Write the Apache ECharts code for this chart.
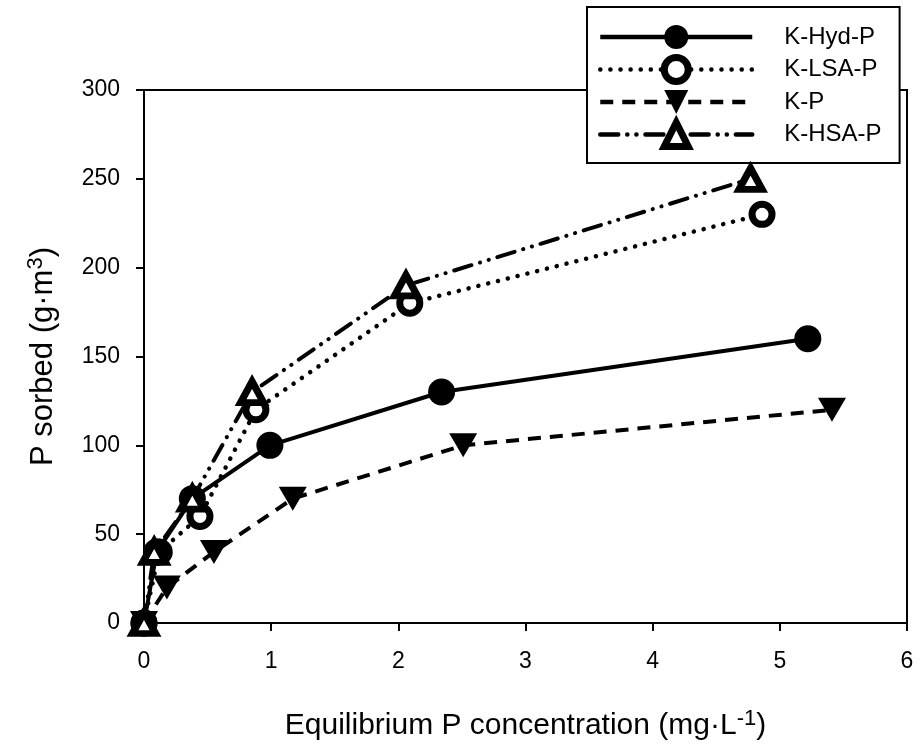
<!DOCTYPE html>
<html>
<head>
<meta charset="utf-8">
<script src="https://cdn.jsdelivr.net/npm/echarts@6/dist/echarts.min.js"></script>
<style>
html, body { margin: 0; padding: 0; background: #fff; }
#chart { width: 921px; height: 750px; }
</style>
</head>
<body>
<div id="chart"></div>
<script>
// Phosphorus sorption isotherms for four sorbents
const seriesNames = ['K-Hyd-P', 'K-LSA-P', 'K-P', 'K-HSA-P'];

const hydX = [0, 0.10, 0.38, 0.99, 2.34, 5.22];
const hydY = [0, 40, 70, 100, 130, 160];

const lsaX = [0, 0.12, 0.44, 0.88, 2.09, 4.86];
const lsaY = [0, 40, 60, 120, 180, 230];

const kpX = [0, 0.18, 0.55, 1.17, 2.51, 5.41];
const kpY = [0, 20, 40, 70, 100, 120];

const hsaX = [0, 0.08, 0.38, 0.85, 2.06, 4.77];
const hsaY = [0, 40, 70, 130, 190, 250];

const xTicks = [0, 1, 2, 3, 4, 5, 6];
const yTicks = [0, 50, 100, 150, 200, 250, 300];

const FONT = '"Liberation Sans", Arial, sans-serif';

function pairs(xs, ys) {
  return xs.map((x, i) => [x, ys[i]]);
}

// line and marker styles per series, shared by plot and legend
const styles = [
  {
    symbol: 'circle', symbolSize: 27, symbolRotate: 0,
    lineStyle: { color: '#000', width: 4, type: 'solid' },
    itemStyle: { color: '#000', borderWidth: 0 }
  },
  {
    symbol: 'circle', symbolSize: 20, symbolRotate: 0,
    lineStyle: { color: '#000', width: 4.5, type: [0.1, 10], cap: 'round' },
    itemStyle: { color: '#fff', borderColor: '#000', borderWidth: 7 }
  },
  {
    symbol: 'triangle', symbolSize: [28, 24], symbolRotate: 180,
    lineStyle: { color: '#000', width: 4, type: [13, 9], cap: 'butt' },
    itemStyle: { color: '#000', borderWidth: 0 }
  },
  {
    symbol: 'triangle', symbolSize: [23, 21], symbolRotate: 0,
    lineStyle: { color: '#000', width: 4, type: [18, 9, 0.1, 9, 0.1, 9], cap: 'round' },
    itemStyle: { color: '#fff', borderColor: '#000', borderWidth: 7 }
  }
];
const seriesData = [pairs(hydX, hydY), pairs(lsaX, lsaY), pairs(kpX, kpY), pairs(hsaX, hsaY)];
const zOrder = [4, 3, 2, 5];

function titleStyle(size) {
  return {
    color: '#000', fontSize: size, fontFamily: FONT,
    rich: {
      sup: {
        fontSize: Math.round(size * 0.72), fontFamily: FONT, color: '#000',
        verticalAlign: 'bottom', padding: [0, 0, Math.round(size * 0.45), 0]
      }
    }
  };
}

const axisCommon = {
  type: 'value',
  axisLine: { show: true, lineStyle: { color: '#000', width: 2 } },
  axisTick: { show: true, inside: false, length: 8, lineStyle: { color: '#000', width: 2 } },
  splitLine: { show: false },
  axisLabel: { color: '#000', fontSize: 23, fontFamily: FONT }
};

const chart = echarts.init(document.getElementById('chart'));
chart.setOption({
  animation: false,
  backgroundColor: '#fff',
  grid: {
    left: 144, right: 14, top: 90, bottom: 127,
    show: true, borderColor: '#000', borderWidth: 2, backgroundColor: 'transparent'
  },
  legend: {
    data: seriesNames.map((name, i) => ({
      name: name,
      itemStyle: Object.assign({}, styles[i].itemStyle),
      lineStyle: Object.assign({}, styles[i].lineStyle, { width: 4.5 })
    })),
    orient: 'vertical',
    left: 587, top: 7,
    itemWidth: 152, itemHeight: 30, itemGap: 5,
    padding: [18, 18, 13, 11],
    backgroundColor: '#fff', borderColor: '#000', borderWidth: 2, borderRadius: 0,
    textStyle: { color: '#000', fontSize: 24, fontFamily: FONT, padding: [0, 0, 0, 27] }
  },
  xAxis: Object.assign({}, axisCommon, {
    min: xTicks[0], max: xTicks[xTicks.length - 1], interval: 1,
    name: 'Equilibrium P concentration (mg·L{sup|-1})',
    nameLocation: 'middle', nameGap: 85,
    nameTextStyle: titleStyle(30),
    axisLabel: Object.assign({}, axisCommon.axisLabel, { margin: 27 })
  }),
  yAxis: Object.assign({}, axisCommon, {
    min: yTicks[0], max: yTicks[yTicks.length - 1], interval: 50,
    name: 'P sorbed (g·m{sup|3})',
    nameLocation: 'middle', nameGap: 83, nameRotate: 90,
    nameTextStyle: titleStyle(31),
    axisLabel: Object.assign({}, axisCommon.axisLabel, { margin: 24 })
  }),
  series: seriesNames.map((name, i) => ({
    name: name, type: 'line', clip: false,
    data: seriesData[i],
    symbol: styles[i].symbol,
    symbolSize: styles[i].symbolSize,
    symbolRotate: styles[i].symbolRotate,
    lineStyle: styles[i].lineStyle,
    itemStyle: styles[i].itemStyle,
    z: zOrder[i]
  }))
});
</script>
</body>
</html>
